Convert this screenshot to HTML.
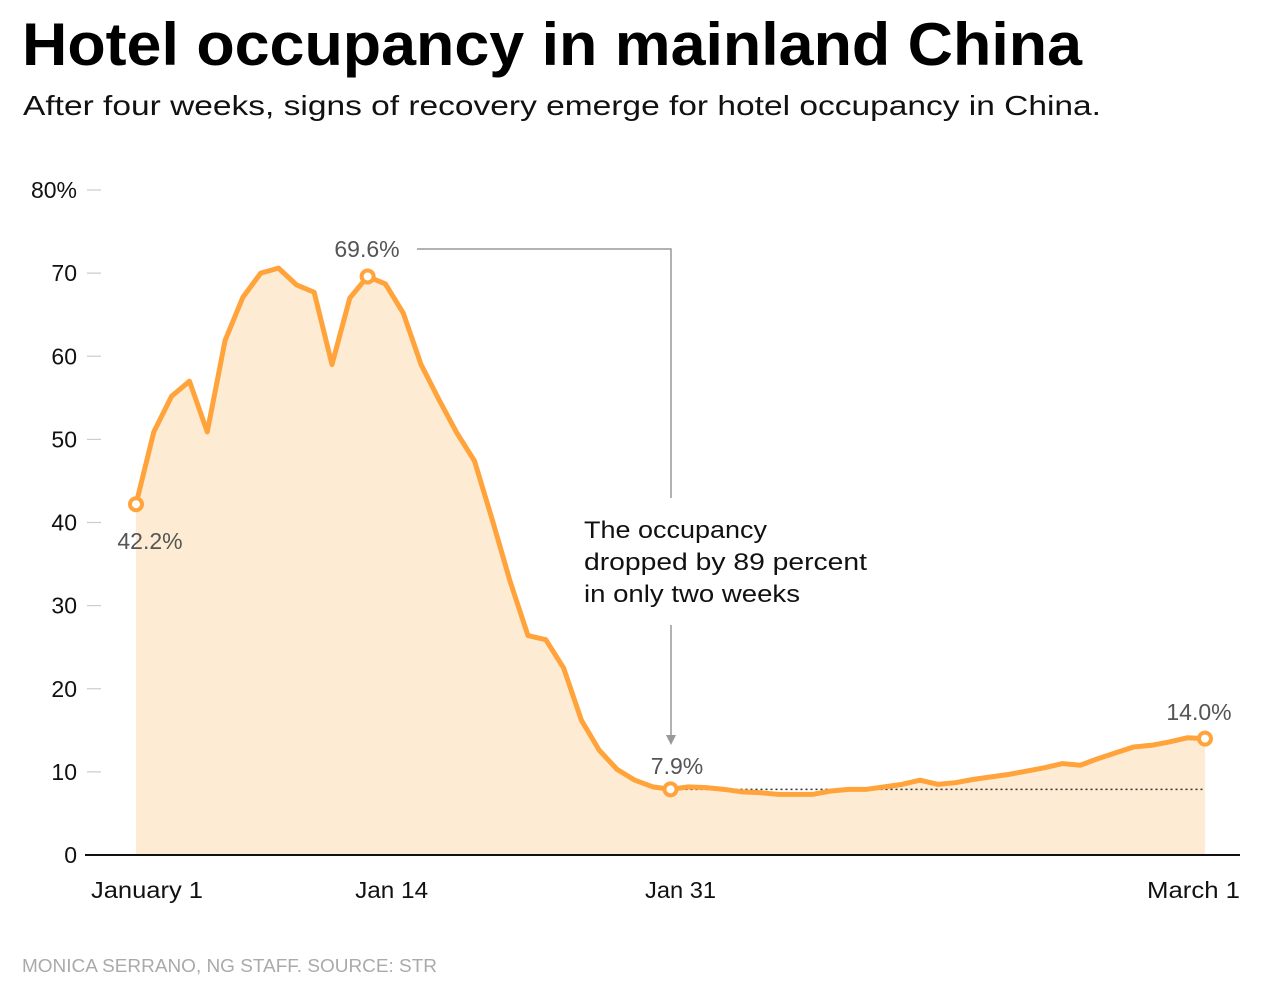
<!DOCTYPE html>
<html><head><meta charset="utf-8"><style>
html,body{margin:0;padding:0;background:#fff;}
svg{display:block;font-family:"Liberation Sans",sans-serif;}
</style></head><body>
<svg id="chart" width="1280" height="988" viewBox="0 0 1280 988">
<text x="22" y="65" font-size="60" font-weight="bold" fill="#000" textLength="1060" lengthAdjust="spacingAndGlyphs">Hotel occupancy in mainland China</text>
<text x="23" y="115" font-size="28" fill="#111" textLength="1078" lengthAdjust="spacingAndGlyphs">After four weeks, signs of recovery emerge for hotel occupancy in China.</text>
<g id="yaxis"></g>
<g id="xaxis"></g>
<g id="plot"></g>
<text x="22" y="972" font-size="18" fill="#aaa" textLength="415" lengthAdjust="spacingAndGlyphs">MONICA SERRANO, NG STAFF. SOURCE: STR</text>
</svg>
<script>
const occupancy = [42.2,50.9,55.2,57.0,50.9,61.9,67.1,70.0,70.6,68.6,67.7,59.0,67.0,69.6,68.7,65.2,59.0,54.8,50.8,47.4,40.3,32.9,26.4,25.9,22.5,16.2,12.6,10.3,9.0,8.2,7.9,8.2,8.1,7.9,7.6,7.5,7.3,7.3,7.3,7.7,7.9,7.9,8.2,8.5,9.0,8.5,8.7,9.1,9.4,9.7,10.1,10.5,11.0,10.8,11.6,12.3,13.0,13.2,13.6,14.1,14.0];
const yTicks = [0,10,20,30,40,50,60,70,80];
const yTickLabels = ["0","10","20","30","40","50","60","70","80%"];
const xTickDays = [0,13,30,60];
const xTickLabels = ["January 1","Jan 14","Jan 31","March 1"];
const NS="http://www.w3.org/2000/svg";
const X0=136, X1=1205, Y0=855, Y80=190;
const xs = d => X0 + (X1-X0)*d/60;
const ys = v => Y0 - (Y0-Y80)*v/80;
function mk(tag, attrs, parent){const e=document.createElementNS(NS,tag);for(const k in attrs)e.setAttribute(k,attrs[k]);parent.appendChild(e);return e;}
const ya=document.getElementById('yaxis'), xa=document.getElementById('xaxis'), plot=document.getElementById('plot');
yTicks.forEach((t,i)=>{
  const g=mk('g',{},ya);
  
  
  if(t>0) mk('line',{x1:87,x2:101,y1:ys(t),y2:ys(t),stroke:'#ccc','stroke-width':1.2},g);
  const tx=mk('text',{x:77,y:ys(t)+8,'font-size':23,fill:'#111','text-anchor':'end'},g);
  tx.textContent=yTickLabels[i];
});
let d=`M${xs(0)},${ys(0)}`;
occupancy.forEach((v,i)=>{d+=` L${xs(i)},${ys(v)}`;});
d+=` L${xs(occupancy.length-1)},${ys(0)} Z`;
const area=mk('path',{d:d,fill:'#feebd3'},plot);


const base=mk('line',{x1:85,x2:1240,y1:Y0,y2:Y0,stroke:'#111','stroke-width':2},plot);


const minIdx=30;
const ref=mk('line',{x1:xs(minIdx),x2:xs(60),y1:ys(occupancy[minIdx]),y2:ys(occupancy[minIdx]),stroke:'#333','stroke-width':1.5,'stroke-dasharray':'2,3'},plot);


const pts=occupancy.map((v,i)=>`${xs(i)},${ys(v)}`).join(' ');
const ln=mk('polyline',{points:pts,fill:'none',stroke:'#ffa33a','stroke-width':5,'stroke-linejoin':'round'},plot);


const xOff=[11,24,10,-11.5], xW=[112,73,71,93];
xTickDays.forEach((dd,i)=>{
  const tx=mk('text',{x:xs(dd)+xOff[i],y:898,'font-size':23,fill:'#111','text-anchor':'middle',textLength:xW[i],lengthAdjust:'spacingAndGlyphs'},xa);
  
  
  tx.textContent=xTickLabels[i];
});
const leader=mk('path',{d:`M417,249 H671 V498`,fill:'none',stroke:'#999','stroke-width':1.5},plot);


const arrow=mk('path',{d:`M671,625 V740`,fill:'none',stroke:'#999','stroke-width':1.5},plot);


const head=mk('path',{d:`M666,735 L671,745 L676,735 Z`,fill:'#999'},plot);


const note=mk('text',{x:584,y:538,'font-size':24,fill:'#111'},plot);


[["The occupancy",183],["dropped by 89 percent",283],["in only two weeks",216]].forEach((s,i)=>{const t=mk('tspan',{x:584,y:538+i*32,textLength:s[1],lengthAdjust:'spacingAndGlyphs'},note);t.textContent=s[0];});
const marks=[[0,'42.2%',150,549],[13,'69.6%',367,257],[30,'7.9%',677,774],[60,'14.0%',1199,720]];
marks.forEach(m=>{
  const c=mk('circle',{cx:xs(m[0]),cy:ys(occupancy[m[0]]),r:6,fill:'#fff',stroke:'#ffa33a','stroke-width':4},plot);
  
  
  const t=mk('text',{x:m[2],y:m[3],'font-size':23,fill:'#555','text-anchor':'middle'},plot);
  
  
  t.textContent=m[1];
});
</script>
</body></html>
